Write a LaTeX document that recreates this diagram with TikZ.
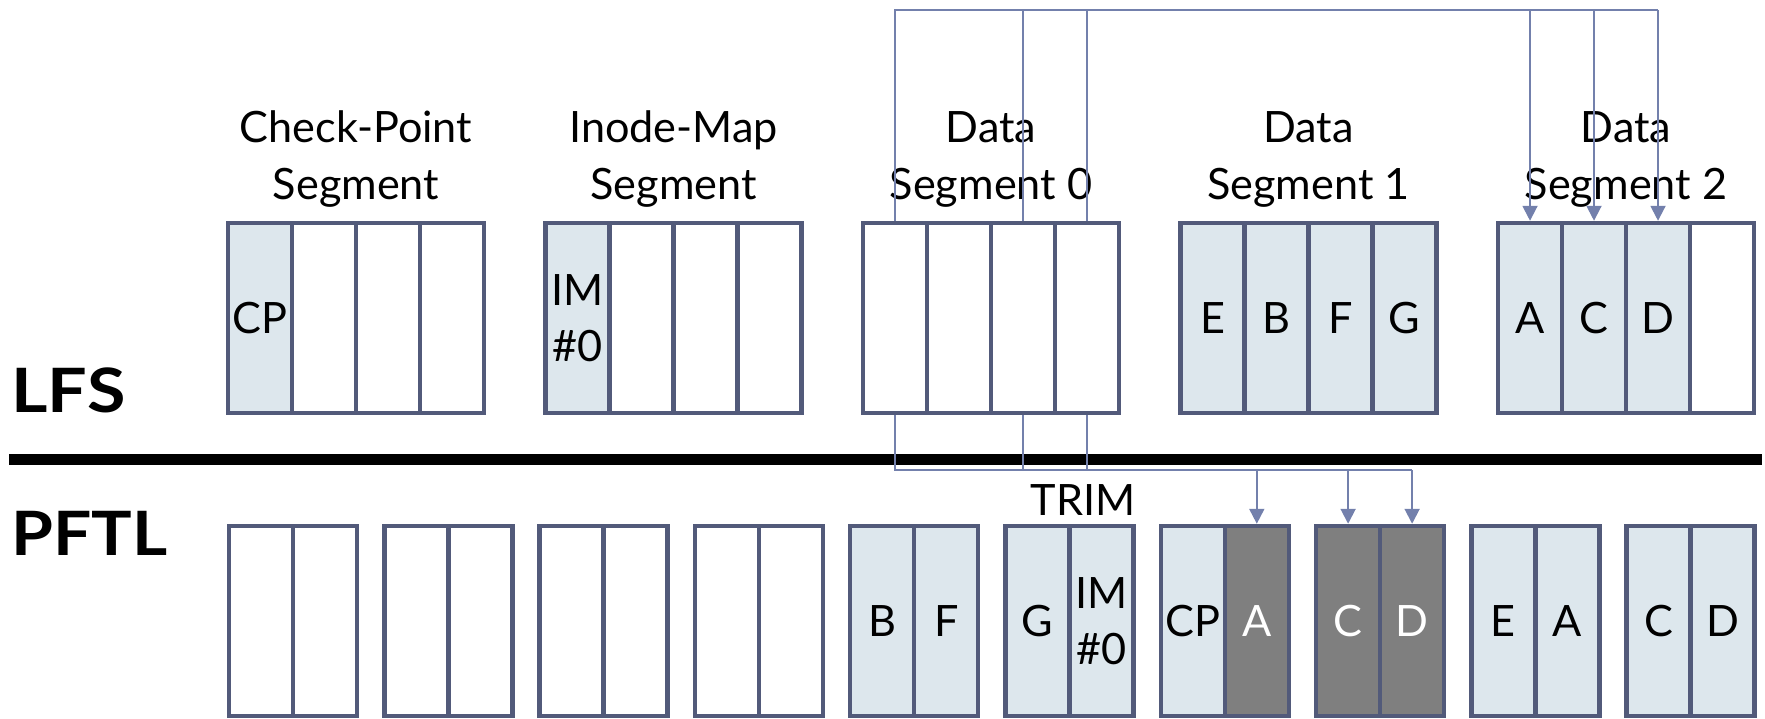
\documentclass[tikz,border=0pt]{standalone}
\usepackage{fontspec}
\usepackage{graphicx}
\setmainfont{Lato}
\usetikzlibrary{arrows.meta}
\definecolor{cellframe}{HTML}{525A7A}
\definecolor{cellfill}{HTML}{DDE7ED}
\definecolor{cellstale}{HTML}{7F7F7F}
\definecolor{linkcol}{HTML}{7380AC}
\begin{document}
\begin{tikzpicture}[x=0.5pt,y=-0.5pt,
  cell/.style={draw=cellframe, line width=2.25pt, minimum width=32pt,
    minimum height=95pt, inner sep=0pt, align=center,
    font=\fontsize{21.6}{28}\selectfont},
  live/.style={cell, fill=cellfill},
  stale/.style={cell, fill=cellstale, text=white},
  free/.style={cell, fill=white},
  seglabel/.style={font=\fontsize{21.6}{28.5}\selectfont, align=center, anchor=base},
  layer/.style={font=\fontsize{29.7}{36}\selectfont\bfseries, anchor=base west, inner sep=0pt},
  link/.style={draw=linkcol, line width=1pt},
  linkarrow/.style={link, -{Triangle[width=7.5pt,length=7.5pt]}}
]
\useasboundingbox (0,0) rectangle (1765,718);

% ---- LFS segments (four blocks each) ----
% Check-point segment
\node[live] (l0c0) at (260,318) {CP};
\node[free] (l0c1) at (324,318) {};
\node[free] (l0c2) at (388,318) {};
\node[free] (l0c3) at (452,318) {};
% Inode-map segment
\node[live] (l1c0) at (577.5,318) {IM\\\#0};
\node[free] (l1c1) at (641.5,318) {};
\node[free] (l1c2) at (705.5,318) {};
\node[free] (l1c3) at (769.5,318) {};
% Data segment 0
\node[free] (l2c0) at (895,318) {};
\node[free] (l2c1) at (959,318) {};
\node[free] (l2c2) at (1023,318) {};
\node[free] (l2c3) at (1087,318) {};
% Data segment 1
\node[live] (l3c0) at (1212.5,318) {E};
\node[live] (l3c1) at (1276.5,318) {B};
\node[live] (l3c2) at (1340.5,318) {F};
\node[live] (l3c3) at (1404.5,318) {G};
% Data segment 2
\node[live] (l4c0) at (1530,318) {A};
\node[live] (l4c1) at (1594,318) {C};
\node[live] (l4c2) at (1658,318) {D};
\node[free] (l4c3) at (1722,318) {};

% ---- segment titles (anchored on the baseline of the second line) ----
\node[seglabel] (t0) at (356,199) {Check-Point\\Segment};
\node[seglabel] (t1) at (673.5,199) {Inode-Map\\Segment};
\node[seglabel] (t2) at (991,199) {Data\\Segment 0};
\node[seglabel] (t3) at (1308.5,199) {Data\\Segment 1};
\node[seglabel] (t4) at (1626,199) {Data\\Segment 2};

% ---- layer names and separator ----
\node[layer] (lfs) at (11,412) {\scalebox{1.18}[1.03]{LFS}};
\node[layer] (pftl) at (11,555) {\scalebox{1.14}[1.03]{PFTL}};
\coordinate (sepL) at (9,459.5);
\coordinate (sepR) at (1762,459.5);
\draw[line width=5.5pt] (sepL) -- (sepR);

% ---- PFTL flash blocks (two pages each) ----
\node[free] (p0a) at (261,621) {};
\node[free] (p0b) at (325,621) {};
\node[free] (p1a) at (416.3,621) {};
\node[free] (p1b) at (480.3,621) {};
\node[free] (p2a) at (571.6,621) {};
\node[free] (p2b) at (635.6,621) {};
\node[free] (p3a) at (726.9,621) {};
\node[free] (p3b) at (790.9,621) {};
\node[live] (p4a) at (882.2,621) {B};
\node[live] (p4b) at (946.2,621) {F};
\node[live] (p5a) at (1037.5,621) {G};
\node[live] (p5b) at (1101.5,621) {IM\\\#0};
\node[live] (p6a) at (1192.8,621) {CP};
\node[stale] (p6b) at (1256.8,621) {A};
\node[stale] (p7a) at (1348.1,621) {C};
\node[stale] (p7b) at (1412.1,621) {D};
\node[live] (p8a) at (1503.4,621) {E};
\node[live] (p8b) at (1567.4,621) {A};
\node[live] (p9a) at (1658.7,621) {C};
\node[live] (p9b) at (1722.7,621) {D};

\node[seglabel] (trim) at (1083,515) {TRIM};

% ---- moves from data segment 0 to data segment 2 ----
\coordinate (topbus) at (0,10);
\draw[link] (l2c0.north) -- (l2c0.north |- topbus) -- (l4c2.north |- topbus);
\draw[link] (l2c2.north) -- (l2c2.north |- topbus);
\draw[link] (l2c3.north) -- (l2c3.north |- topbus);
\draw[linkarrow] (l4c0.north |- topbus) -- (l4c0.north);
\draw[linkarrow] (l4c1.north |- topbus) -- (l4c1.north);
\draw[linkarrow] (l4c2.north |- topbus) -- (l4c2.north);

% ---- trimmed pages in flash ----
\coordinate (lowbus) at (0,470);
\draw[link] (l2c0.south) -- (l2c0.south |- lowbus) -- (p7b.north |- lowbus);
\draw[link] (l2c2.south) -- (l2c2.south |- lowbus);
\draw[link] (l2c3.south) -- (l2c3.south |- lowbus);
\draw[linkarrow] (p6b.north |- lowbus) -- (p6b.north);
\draw[linkarrow] (p7a.north |- lowbus) -- (p7a.north);
\draw[linkarrow] (p7b.north |- lowbus) -- (p7b.north);
\end{tikzpicture}
\end{document}
